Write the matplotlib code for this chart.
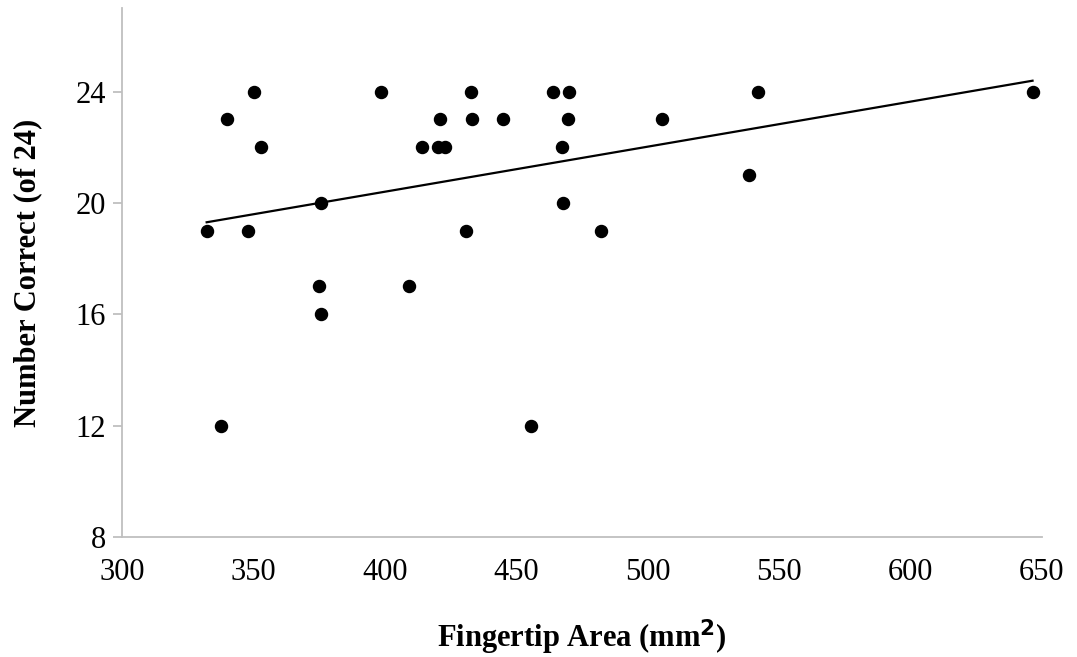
import matplotlib.pyplot as plt
import numpy as np

plt.rcParams['font.family'] = ['Liberation Serif', 'DejaVu Serif']

# fingertip area (mm^2) and number correct (of 24)
area = [332.2, 337.7, 339.8, 348.0, 350.2, 352.8, 374.8, 375.8, 375.8, 398.6,
        409.0, 414.2, 420.4, 420.8, 422.9, 430.7, 432.9, 433.2, 445.0, 455.7,
        463.9, 467.4, 467.7, 469.5, 469.9, 482.2, 505.3, 538.5, 542.0, 646.4]
correct = [19, 12, 23, 19, 24, 22, 17, 16, 20, 24,
           17, 22, 22, 23, 22, 19, 24, 23, 23, 12,
           24, 22, 20, 23, 24, 19, 23, 21, 24, 24]

x_ticks = [300, 350, 400, 450, 500, 550, 600, 650]
y_ticks = [8, 12, 16, 20, 24]

fig = plt.figure(figsize=(10.77, 6.57), dpi=100)
ax = fig.add_axes([0.1133, 0.1826, 0.8542, 0.8052])

ax.scatter(area, correct, s=75, color='black', zorder=3)

# linear trendline over the data range
xa = np.array(area)
slope, icept = np.polyfit(xa, correct, 1)
xt = np.array([xa.min(), xa.max()])
ax.plot(xt, slope * xt + icept, color='black', linewidth=1.6, zorder=2)

ax.set_xlim(300, 650)
ax.set_ylim(8, 27)
ax.set_xticks(x_ticks)
ax.set_yticks(y_ticks)

for side in ['top', 'right']:
    ax.spines[side].set_visible(False)
for side in ['left', 'bottom']:
    ax.spines[side].set_color('#BFBFBF')
    ax.spines[side].set_linewidth(1.3)

ax.tick_params(axis='x', length=0, pad=15, labelsize=22)
ax.tick_params(axis='y', length=6.5, width=1.3, color='#BFBFBF', pad=5, labelsize=22)

ax.set_xlabel('Fingertip Area (mm$^\\mathbf{2}$)', fontsize=22, fontweight='bold', labelpad=22)
ax.set_ylabel('Number Correct (of 24)', fontsize=22, fontweight='bold', labelpad=24)

fig.savefig('out.png', dpi=100)
